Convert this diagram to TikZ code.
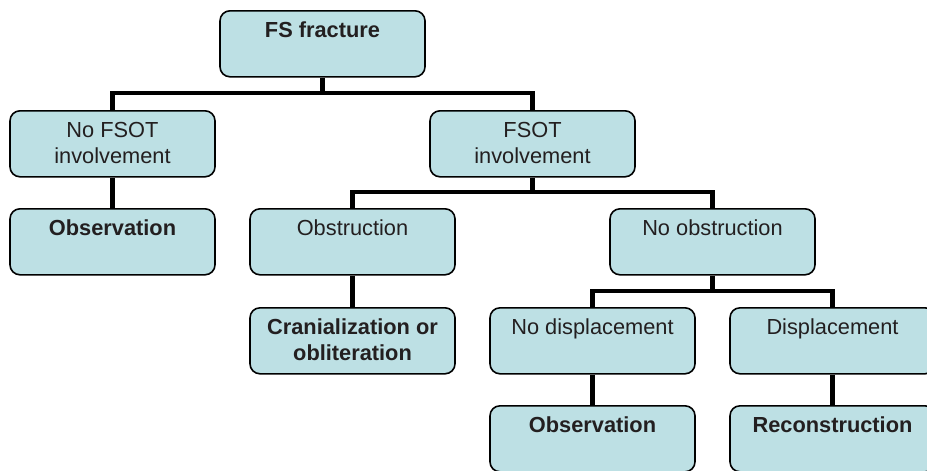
\documentclass[tikz,border=0pt]{standalone}
\usepackage{fontspec}
\setmainfont{Liberation Sans}
\definecolor{boxblue}{HTML}{BDE0E4}
\definecolor{textgray}{HTML}{231F20}
\tikzset{
  box/.style={draw=black, line width=0.9pt, rounded corners=0.2cm, fill=boxblue,
    anchor=north, minimum width=4.1cm, inner xsep=0pt, inner ysep=0pt,
    text height=0.53cm, text depth=0.79cm, align=center, text=textgray,
    font=\fontsize{12.4}{14.7}\selectfont},
  twoline/.style={text height=1.05cm, text depth=0.27cm},
  conn/.style={line width=2.8pt}
}
\begin{document}
\begin{tikzpicture}
  \useasboundingbox (0,0) rectangle (18.54,-9.4);

  % Boxes
  \node[box] (fs) at (6.45,-0.2) {\textbf{FS fracture}};
  \node[box,twoline] (nofsot) at (2.25,-2.2) {No FSOT\\involvement};
  \node[box,twoline] (fsot) at (10.65,-2.2) {FSOT\\involvement};
  \node[box] (obsleft) at (2.25,-4.16) {\textbf{Observation}};
  \node[box] (obstr) at (7.05,-4.16) {Obstruction};
  \node[box] (noobstr) at (14.25,-4.16) {No obstruction};
  \node[box,twoline] (cranial) at (7.05,-6.14) {\textbf{Cranialization or}\\\textbf{obliteration}};
  \node[box] (nodisp) at (11.85,-6.14) {No displacement};
  \node[box] (disp) at (16.65,-6.14) {Displacement};
  \node[box] (obsright) at (11.85,-8.1) {\textbf{Observation}};
  \node[box] (recon) at (16.65,-8.1) {\textbf{Reconstruction}};

  % Connectors
  \draw[conn] (fs.south) -- ++(0,-0.34);
  \draw[conn] (nofsot.north) -- ++(0,0.34) -| (fsot.north);
  \draw[conn] (nofsot.south) -- (obsleft.north);
  \draw[conn] (fsot.south) -- ++(0,-0.32);
  \draw[conn] (obstr.north) -- ++(0,0.32) -| (noobstr.north);
  \draw[conn] (obstr.south) -- (cranial.north);
  \draw[conn] (noobstr.south) -- ++(0,-0.34);
  \draw[conn] (nodisp.north) -- ++(0,0.32) -| (disp.north);
  \draw[conn] (nodisp.south) -- (obsright.north);
  \draw[conn] (disp.south) -- (recon.north);

\end{tikzpicture}
\end{document}
